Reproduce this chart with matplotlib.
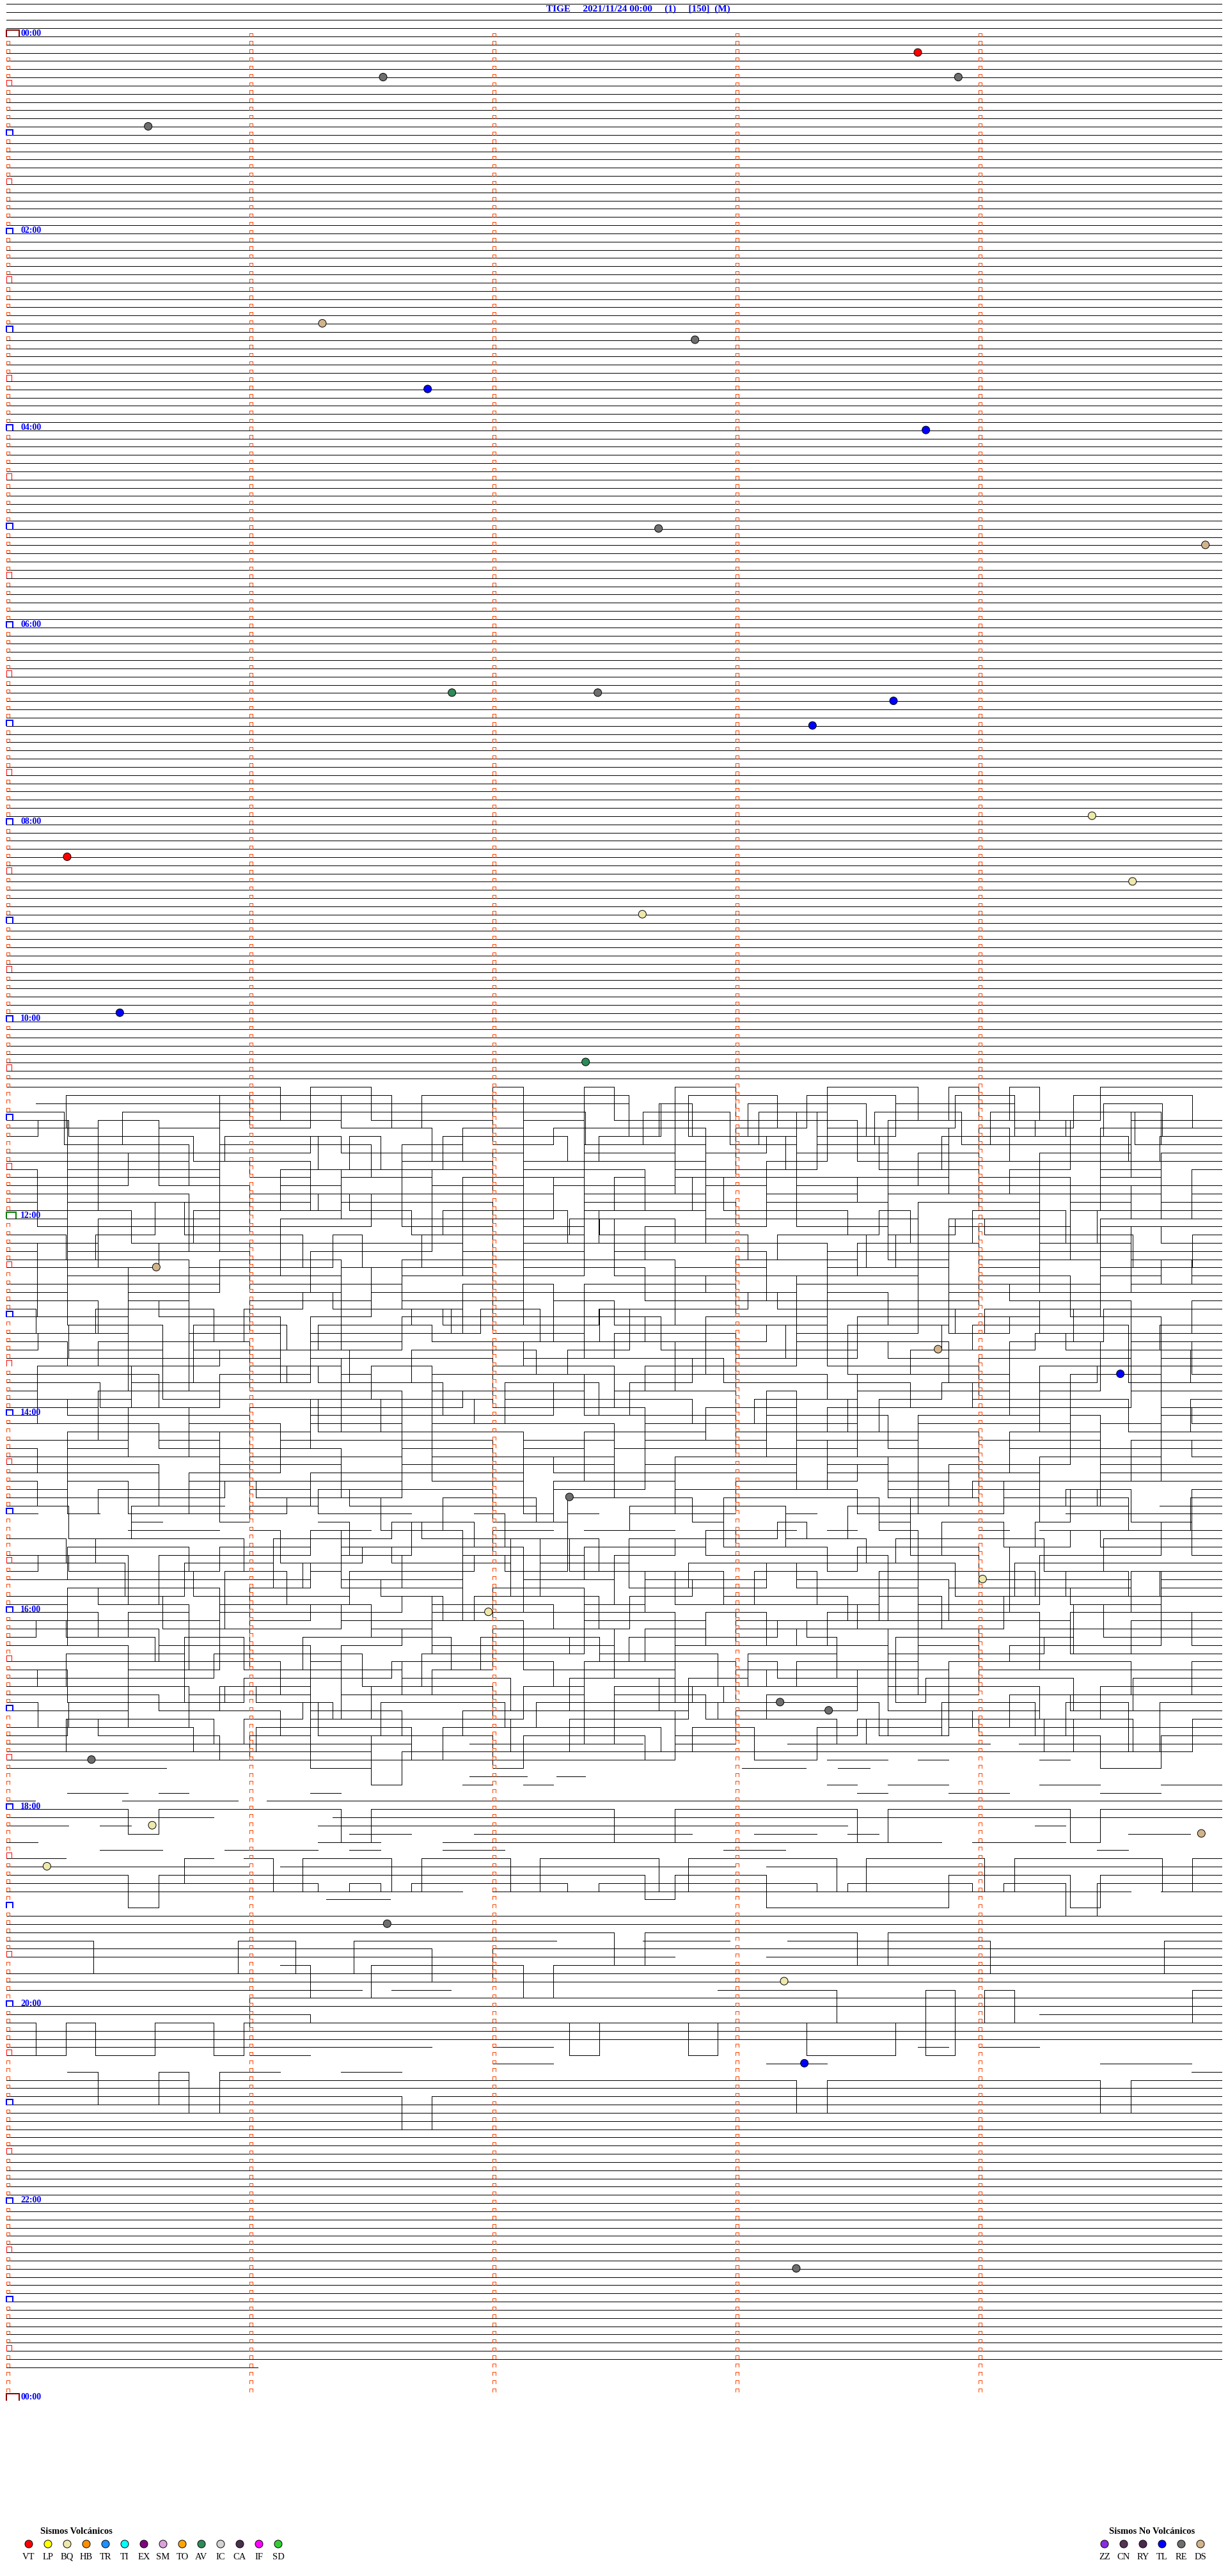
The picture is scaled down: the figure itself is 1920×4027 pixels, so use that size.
import matplotlib.pyplot as plt
from matplotlib.collections import LineCollection

# page geometry (pixels) of the drum record
W, H = 1920, 4027
X0, PX_MIN = 10, 380       # left edge of every row, pixels per minute
Y0, PX_ROW = 57, 12.83     # baseline of the 00:00 row, pixels per 5-min row

title = "TIGE     2021/11/24 00:00     (1)     [150]  (M)"

first_row = -4
data_end = "23:41:02"

# trace levels per bin, in rows: 0 baseline, 1-6 down, a-f up, '.' no trace
active_start = "10:40"
active_levels = [
    "0000000004004444044044004440004040440000",
    ".4000000000004000000044000400044004400004",
    ".0000000000000000000040440000400004440044",
    "004400000000000000004400040044000400000444",
    "00400440000b0000300444000040300000044000",  # 11:00
    "0044400d00d000400440000300b0000404440000",
    "0b0000300040440000300d00040044000b00300",
    "444000300000400b00b000040044400300000d00",
    "0040044000b00000034000300b00040044000300",
    "00d000300044400040000003300b000400440000",
    "0300000440000400b000030000444000300d0040",
    "0440000b00400030000404400000300b00040044",
    "0000d00030044400040000b00400000033000400",
    "030000440000300000b000044000b00000400030",
    "0300000400d00040444000003000040000b00b00",
    "0000440000b00300004000d0000304400040000",
    "0040000330000b00044000300b00004000440000",  # 12:00
    "440000300000b000400440000b00033000040000",
    "00300d0000404400000b000003000400b00000440",
    "0003300040000004400300b00004000044000b00",
    "04000000440000b0000d0000033000400000b000",
    "0b00003000033000400000440000b00d00004030",
    "0000440000300000b00004000440000b00330000",
    "3300000b00044000400d000003000044000400b0",
    "0400000b0000033000400000440000b00000d000",
    "0044000b00030000300000b00040044000030000",
    "000400440000d0000300330000400000b0000440",
    "0330000400b00003004400000b000000300040000",
    "0000b0000404400000300330000400d000b00044",  # 13:00
    "4400040003000b00000b0000044000300000300",
    "000033000400000d00030000440000b00b000400",
    "0030000044000b00300000400b00000440003000",
    "0b000400000440000300d000000330000b00440",
    "0000440003000000b00000440000b00300000400",
    "3000000b000400440000300000d0000044000b00",
    "0000044000b03300000400b000030000044000d0",
    "000300000b000044000400c000000330000b000",
    "0440000b00000300000b0000404400000300d000",
    "0000d0000044000300000033000400b00000440",
    "000400330000000b000004400030000000300b00",
    "0b0000004400030000d000004000330000b04400",  # 14:00
    "0000440003000b000000300040004400000300b0",
    "3300000400d000000440000b00b0000040003300",
    "0000b00440000000300040000b00004400003000",
    "0300b00000033000400440000000d00030004400",
    "4400000300000b000000330000b00400440000b0",
    "00000330000440004000b00000300440000d0000",
    "0b000400440000000b00330000b0000300440000",
    "0300440000000d00040000440000b00300000b00",
    "0030000400b0000044000b000000330000400440",
    "0000000b00004400030000300000400b0000440",
    "0044000.00b000000..300000440000000b0.00",
    "0.0..0000b000..0330.000440..0000b.00000",  # 15:00
    "....0.....04400300..........040030.....",
    "..4.000.0440.00300.000..00.0.04.0.000.00",
    "0030000040000b000404400000b00300000440000",
    "4400003000b000000440000b00030000400b0000",
    "0000300000b00440000300b000000400440000d0",
    "000044000300b0000400033000000b00440000000",
    "0b0000300440000b00d00004004400000300300",
    "0000300000b00004400030000b00000440000400",
    "4400000300b00004000330000b00044000000b00",
    "00000440000b0030000400b0000300440000000",
    "00b000400000440000300d000000330000b00044",
    "0003004400000b00b00000400440000000300000",  # 16:00
    "3300000400b000000440000300000d0000044000",
    "00000440000b00330000400b00000300440000b0",
    "0b000300440000040000300000b044000000d0000",
    "0000330000400b000000440000b00400330000b0",
    "4400003000004400000b000040003300000b00000",
    "00000b000404400000300000330000400b000440",
    "0044000b00000300b00000440000300300000000",
    "0000003300000b00044000400b000030000044000",
    "b000003000440000400300000b00b00000440000",
    "0000440000300b00000400033000b00440000000",
    "0300000b00440000300000b0000044000400300",
    "0000b00003000330000400440000b00000b00000",  # 17:00
    "4400000300b000000440000b00003000000400440",
    "0000003300000400b0000300440000b00000300",
    "00b0000300440000400003000000b00b00004400",
    "00000000000000..000000.....0000000.0000000",
    "000000000000400000000000000000000000000.",
    "0000000000000000000000.....00.0...0.....",
    "00000..................00.0...........",
    "................00.0......................",
    "............0..0.0.........0.00...00..00",
    "..00.0....0.................0..00...00..",
    "0...0000.000000000000000000000000000000000",
    "0000300000040000000044000000400000040000",  # 18:00
    "0000000....000000000000000000000000000000",
    "00.0......00000000000000000......0.....",
    "...........00..0000000..00.0........00.",
    "0.........00..0000000000000000.000.....",
    "...00..000.0..00.......00..........0...",
    "00..330.040004000400004000004000040000040",
    "00000000.000000000000000.000000000000000",
    "0000400000000000000003000444444000040000",
    "000000000010100000100000001000010040000",
    "000000000000000.000000000000000000000.00",
    "..........00..........................",
    "........................................",  # 19:00
    "0000000000000000000000000000000000000000",
    "0000000000000000000000000000000000000000",
    "0000000000000000000040000000400000000000",
    "0004444400440000000...000..000000044444400",
    "0000000000000044000000000000000000000000",
    "0000000000000000000000...000000000000000",
    ".........0440000040000000000000000000000",
    "0000000000000000000000000000000000000000",
    "0000000000000000000000000000000000000000",
    "000000000000.00.........00004440404444440",
    "4444444400000000000000000000000000000000",
    "0000000000000000000000000000000000000000",  # 20:00
    "00000000001111.111111111111111111.000000",
    "04044004000000000004000400044404000000000",
    "0000000000000000000000000000000000000000",
    "0000000000000000000000000000000000000000",
    "00000000000000..00............0.00......",
    "0.......00..............................",
    "................00.......00.........000.",
    "..0440400..00..........................0",
    "0000004000000000000000000040000000004000",
    "0000000000000000000000000000000000000000",
    "0000000000000400000000000000000000000000",
]

event_times = ["00:13:45", "00:28:55", "00:26:33", "00:55:35", "02:56:18", "03:07:50",
               "03:36:44", "04:03:47", "05:02:41", "05:14:56", "06:41:50", "06:42:26",
               "06:48:39", "07:03:19", "07:59:28", "08:20:15", "08:39:38", "08:57:37",
               "09:55:28", "10:27:23", "12:30:37", "13:23:50", "13:39:35", "14:52:19",
               "15:44:01", "16:01:59", "16:58:11", "17:03:23", "17:30:21", "18:10:36",
               "18:19:55", "18:35:10", "19:11:34", "19:48:12", "20:38:17", "22:43:15"]
event_types = ["VT", "RE", "RE", "RE", "DS", "RE",
               "TL", "TL", "RE", "DS", "AV", "RE",
               "TL", "TL", "BQ", "VT", "BQ", "BQ",
               "TL", "AV", "DS", "DS", "TL", "RE",
               "BQ", "BQ", "RE", "RE", "RE", "BQ",
               "DS", "BQ", "RE", "BQ", "TL", "RE"]

volc_codes = ["VT", "LP", "BQ", "HB", "TR", "TI", "EX", "SM", "TO", "AV", "IC", "CA", "IF", "SD"]
volc_colors = ["#ff0000", "#ffff00", "#eee8aa", "#ff8c00", "#1e90ff", "#00ffff", "#800080",
               "#dda0dd", "#ffa500", "#2e8b57", "#d3d3d3", "#4b2d4f", "#ff00ff", "#32cd32"]
novolc_codes = ["ZZ", "CN", "RY", "TL", "RE", "DS"]
novolc_colors = ["#8a2be2", "#553355", "#4b2850", "#0000ff", "#6e6e6e", "#d2b48c"]


def to_min(t):
    parts = [int(p) for p in t.split(":")]
    while len(parts) < 3:
        parts.append(0)
    return parts[0] * 60 + parts[1] + parts[2] / 60


LEVEL = {str(i): i for i in range(7)}
LEVEL.update({c: -(i + 1) for i, c in enumerate("abcdef")})

px_x = 1 / PX_MIN
px_y = 1 / PX_ROW
ONE_PX = 0.72   # one pixel in points at dpi 100

plt.rcParams['font.family'] = ['Liberation Serif', 'DejaVu Serif']
fig = plt.figure(figsize=(W / 100, H / 100), dpi=100)
ax = fig.add_axes([0, 0, 1, 1])
ax.set_xlim(-X0 / PX_MIN, (W - X0) / PX_MIN)
ax.set_ylim((H - Y0) / PX_ROW, -Y0 / PX_ROW)
ax.axis('off')

# --- traces
end_min = to_min(data_end)
act_row0 = int(to_min(active_start) // 5)
polys = []
r = first_row
while 5 * r < end_min:
    k = r - act_row0
    s = active_levels[k] if 0 <= k < len(active_levels) else "0"
    w = 5 / len(s)
    lim = min(5, end_min - 5 * r)
    cur = []
    for i, c in enumerate(s):
        xa, xb = i * w, min((i + 1) * w, lim)
        if c == "." or xa >= xb:
            if len(cur) > 1:
                polys.append(cur)
            cur = []
            if xa >= xb:
                break
            continue
        y = r + LEVEL[c]
        cur.append((xa, y))
        cur.append((xb, y))
    if len(cur) > 1:
        polys.append(cur)
    r += 1
ax.add_collection(LineCollection(polys, colors="black", linewidths=ONE_PX,
                                 antialiaseds=False, zorder=2))


# --- minute ticks and hour boxes
def cap(x0, width, row, height):
    yb = row - 0.4 * px_y
    yt = yb - height * px_y
    return [(x0, yb), (x0, yt), (x0 + width * px_x, yt), (x0 + width * px_x, yb)]


ticks = []
for r in range(0, 288):
    for m in range(5):
        if m == 0 and (5 * r) % 30 == 0:
            continue
        ticks.append(cap(m, 5, r, 5))
ax.add_collection(LineCollection(ticks, colors="#ff4500", linewidths=ONE_PX,
                                 antialiaseds=False, zorder=3))

for r in range(0, 289):
    mins = 5 * r
    if mins % 30:
        continue
    hh = (mins // 60) % 24
    if mins % 60 == 30:
        box, col, lw = cap(0, 8, r, 9), "#ff0000", ONE_PX
    elif hh % 2 == 1:
        box, col, lw = cap(0, 10, r, 8), "#0000ff", 2 * ONE_PX
    else:
        if hh == 0:
            box, col, lw = cap(0, 20, r, 10), "#8b0000", 2 * ONE_PX
        elif hh == 12:
            box, col, lw = cap(0, 15, r, 9), "#008000", 2 * ONE_PX
        else:
            box, col, lw = cap(0, 10, r, 8), "#0000ff", 2 * ONE_PX
        ax.text(22 * px_x, r - 0.05, f"{hh:02d}:00", color="#0000ff", fontsize=10,
                fontweight="bold", ha="left", va="baseline", zorder=4)
    xs, ys = zip(*box)
    ax.plot(xs, ys, color=col, lw=lw, antialiased=False, zorder=3,
            solid_joinstyle="miter")

# --- event circles
ev_colors = dict(zip(volc_codes + novolc_codes, volc_colors + novolc_colors))
ev_m = [to_min(t) for t in event_times]
ev_row = [int(m // 5) for m in ev_m]
ev_x = [m - 5 * r for m, r in zip(ev_m, ev_row)]
ax.scatter(ev_x, [r - 0.05 for r in ev_row], s=75, c=[ev_colors[t] for t in event_types],
           edgecolors="black", linewidths=0.7, zorder=5)

# --- title
fig.text(854 / W, 1 - 18 / H, title, color="#0000ff", fontsize=11, fontweight="bold",
         ha="left", va="baseline")

# --- legends (pixel layout)
lax = fig.add_axes([0, 0, 1, 1])
lax.set_xlim(0, W)
lax.set_ylim(H, 0)
lax.axis('off')
lax.patch.set_alpha(0)

lax.text(63, 3957, "Sismos Volcánicos", fontsize=10.5, fontweight="bold",
         ha="left", va="center")
vx = [45 + 30 * i for i in range(len(volc_codes))]
lax.scatter(vx, [3977] * len(vx), s=75, c=volc_colors, edgecolors="black", linewidths=0.7)
for x, code in zip(vx, volc_codes):
    lax.text(x, 3997, code, fontsize=10.5, ha="center", va="center")

lax.text(1734, 3957, "Sismos No Volcánicos", fontsize=10.5, fontweight="bold",
         ha="left", va="center")
nx = [1727 + 30 * i for i in range(len(novolc_codes))]
lax.scatter(nx, [3977] * len(nx), s=75, c=novolc_colors, edgecolors="black", linewidths=0.7)
for x, code in zip(nx, novolc_codes):
    lax.text(x, 3997, code, fontsize=10.5, ha="center", va="center")

fig.savefig("out.png", dpi=100)
